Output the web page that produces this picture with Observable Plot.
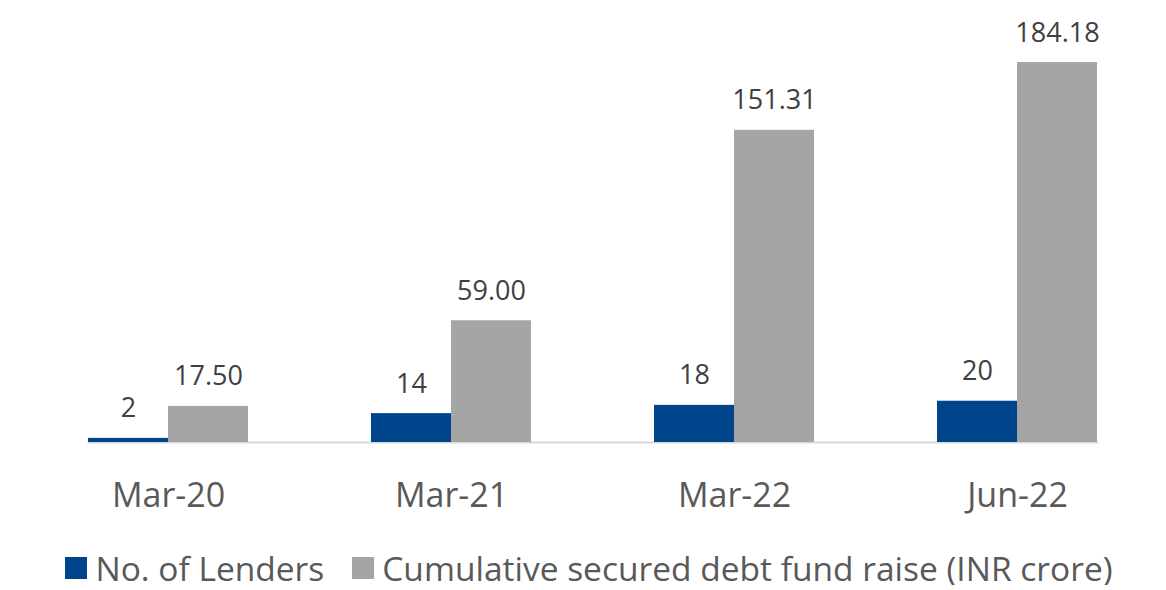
<!DOCTYPE html>
<html>
<head>
<meta charset="utf-8">
<script src="https://cdn.jsdelivr.net/npm/d3@7"></script>
<script src="https://cdn.jsdelivr.net/npm/@observablehq/plot@0.6"></script>
<style>
  html, body { margin: 0; padding: 0; background: #fff; }
  body { width: 1166px; font-family: "Open Sans", sans-serif; }
  #chart svg { display: block; }
  #legend { display: flex; justify-content: center; align-items: center; gap: 28px; font-size: 33.5px; line-height: 34px; color: #595959; height: 34px; margin-top: 21px; padding-left: 12px; }
  .item { display: flex; align-items: center; gap: 8px; white-space: nowrap; }
  .sw { width: 22px; height: 22px; display: inline-block; flex: none; }
</style>
</head>
<body>
<div id="chart"></div>
<div id="legend"></div>
<script>
const categories = ["Mar-20", "Mar-21", "Mar-22", "Jun-22"];
const seriesNames = ["No. of Lenders", "Cumulative secured debt fund raise (INR crore)"];
const lenders = [2, 14, 18, 20];
const fundRaise = [17.50, 59.00, 151.31, 184.18];
const lenderLabels = ["2", "14", "18", "20"];
const fundLabels = ["17.50", "59.00", "151.31", "184.18"];
const colors = ["#00458C", "#A5A5A5"];

const data = [];
categories.forEach((c, i) => {
  data.push({category: c, series: seriesNames[0], value: lenders[i], label: lenderLabels[i]});
  data.push({category: c, series: seriesNames[1], value: fundRaise[i], label: fundLabels[i]});
});

const chart = Plot.plot({
  width: 1166,
  height: 530,
  marginTop: 62,
  marginBottom: 88,
  marginLeft: 26,
  marginRight: 7,
  style: {fontFamily: "'Open Sans', sans-serif", background: "#fff"},
  fx: {domain: categories, paddingInner: 0.4346, paddingOuter: 0.2173, label: null, axis: "bottom", tickSize: 0, tickPadding: 40},
  x: {domain: seriesNames, padding: 0, axis: null},
  y: {domain: [0, 184.18], axis: null},
  color: {domain: seriesNames, range: colors},
  marks: [
    Plot.frame({anchor: "bottom", facet: "super", stroke: "#D9D9D9", strokeWidth: 2}),
    Plot.barY(data, {fx: "category", x: "series", y: "value", fill: "series"}),
    Plot.text(data, {fx: "category", x: "series", y: "value", text: "label", lineAnchor: "bottom", dy: -21, fontSize: 27, fill: "#404040"})
  ]
});
chart.querySelectorAll("g[aria-label='fx-axis tick label'] text").forEach(t => {
  t.setAttribute("font-size", 34);
  t.setAttribute("fill", "#595959");
});
document.getElementById("chart").appendChild(chart);

const legend = document.getElementById("legend");
seriesNames.forEach((name, i) => {
  const item = document.createElement("span");
  item.className = "item";
  const sw = document.createElement("span");
  sw.className = "sw";
  sw.style.background = colors[i];
  item.appendChild(sw);
  item.appendChild(document.createTextNode(name));
  legend.appendChild(item);
});
</script>
</body>
</html>
